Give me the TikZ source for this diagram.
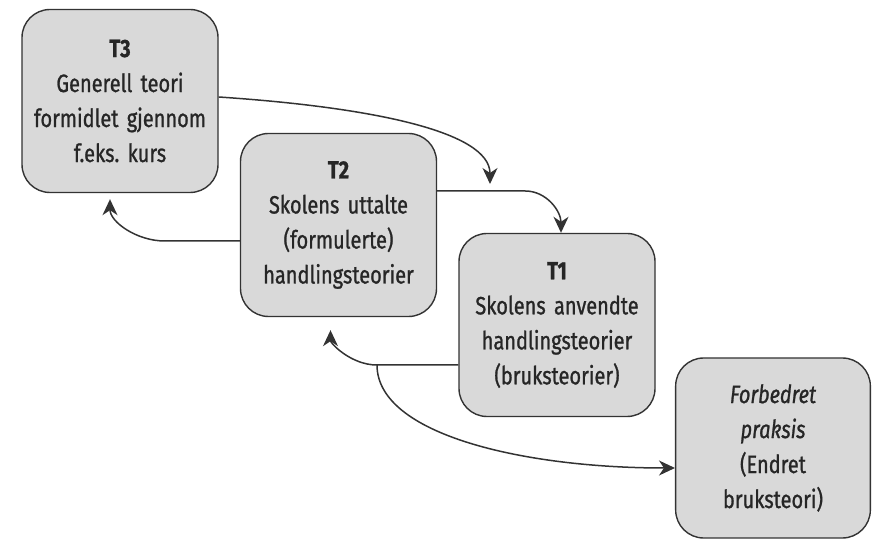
\documentclass[tikz,border=0pt]{standalone}
\usepackage{fontspec}
\setmainfont{Fira Sans}[FakeStretch=0.8,FakeBold=1]
\usetikzlibrary{arrows.meta}
\tikzset{
  teori/.style={draw=black!80, line width=1.4pt, fill=black!15, rounded corners=28pt,
    minimum width=196pt, minimum height=183pt, text width=188pt, align=center,
    text=black!85, font=\fontsize{25}{35}\selectfont},
  pil/.style={line width=1.5pt, draw=black!80, -{Stealth[length=16pt,width=15pt,inset=5pt]}},
  strek/.style={line width=1.5pt, draw=black!80}
}

\begin{document}
\begin{tikzpicture}[x=1pt,y=1pt]
\useasboundingbox (0,0) rectangle (872,540);
\node[teori](T3) at (120,439) {\textbf{T3}\\Generell teori\\formidlet gjennom\\f.eks.\ kurs};
\node[teori](T2) at (338.5,315) {\textbf{T2}\\Skolens uttalte\\(formulerte)\\handlingsteorier};
\node[teori](T1) at (557,215) {\textbf{T1}\\Skolens anvendte\\handlingsteorier\\(bruksteorier)};
\node[teori, minimum width=194pt, minimum height=180pt](F) at (773,92) {\textit{Forbedret}\\\textit{praksis}\\(Endret\\bruksteori)};
\coordinate (j) at (377,175);
\coordinate (m1) at (490,349);
\draw[pil] ([yshift=34pt]T2.east) -- ++(88,0) to[out=0,in=90] ([xshift=4pt]T1.north);
\draw[pil, shorten >=7pt] ([yshift=4pt]T3.east) .. controls +(150,-10) and +(0,60) .. (m1);
\draw[pil, shorten >=6pt] ([yshift=-16pt]T2.west) -- ++(-75,0) to[out=180,in=-90] ([xshift=-10pt]T3.south);
\draw[pil, shorten >=13pt] ([yshift=-40pt]T1.west) -- (j) to[out=180,in=-90] ([xshift=-8pt]T2.south);
\draw[pil] (j) .. controls +(0,-70) and +(-150,0) .. ([yshift=-20pt]F.west);
\end{tikzpicture}
\end{document}
